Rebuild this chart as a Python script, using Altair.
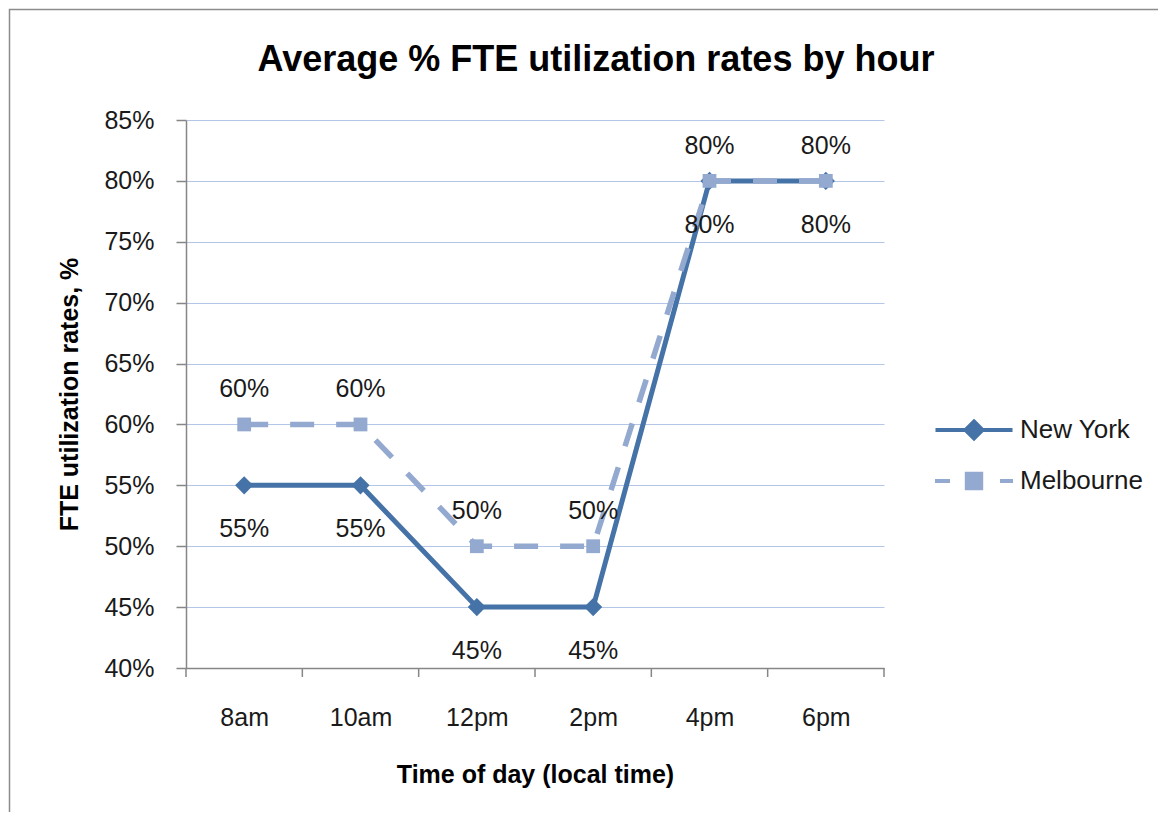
import json
import altair as alt
import pandas as pd

# ---- data ----
hours = ["8am", "10am", "12pm", "2pm", "4pm", "6pm"]
new_york = [55, 55, 45, 45, 80, 80]
melbourne = [60, 60, 50, 50, 80, 80]
cities = ["New York", "Melbourne"]
colors = ["#4572a7", "#93a9cf"]

FONT = "Liberation Sans"
TXT = 25

rows = []
for i, h in enumerate(hours):
    rows.append({"i": i, "hour": h, "city": "New York", "value": new_york[i]})
    rows.append({"i": i, "hour": h, "city": "Melbourne", "value": melbourne[i]})
df = pd.DataFrame(rows)
df["label"] = df["value"].astype(str) + "%"

bounds_df = pd.DataFrame({"b": [k - 0.5 for k in range(len(hours) + 1)]})

label_expr = json.dumps(hours) + "[datum.value]"
xscale = alt.Scale(domain=[-0.5, len(hours) - 0.5], nice=False, zero=False)
yscale = alt.Scale(domain=[40, 85], nice=False, zero=False)

x_enc = alt.X(
    "i:Q",
    scale=xscale,
    axis=alt.Axis(
        values=list(range(len(hours))),
        labelExpr=label_expr,
        ticks=False,
        grid=False,
        labelPadding=37,
        title="Time of day (local time)",
        titlePadding=32,
    ),
)
y_enc = alt.Y(
    "value:Q",
    scale=yscale,
    axis=alt.Axis(
        values=list(range(40, 86, 5)),
        labelExpr="datum.value + '%'",
        tickSize=10,
        labelPadding=22,
        title="FTE utilization  rates, %",
        titlePadding=21,
        grid=True,
    ),
)

base = alt.Chart(df)

border = alt.Chart(pd.DataFrame({"a": [0]})).mark_rect(
    fillOpacity=0, stroke="#8c8c8c", strokeWidth=1.5
).encode(
    x=alt.value(-176.5), x2=alt.value(1200), y=alt.value(-110.5), y2=alt.value(900)
)

xticks = alt.Chart(bounds_df).mark_rule(color="#868686", strokeWidth=1.5).encode(
    x=alt.X("b:Q", scale=xscale), y=alt.value(548), y2=alt.value(557)
)

ny = base.transform_filter(alt.datum.city == "New York")
mel = base.transform_filter(alt.datum.city == "Melbourne")

ny_line = ny.mark_line(color=colors[0], strokeWidth=5).encode(x=x_enc, y=y_enc)
ny_pts = ny.mark_point(shape="diamond", filled=True, size=330, color=colors[0], opacity=1).encode(
    x=x_enc, y=y_enc
)
mel_line = mel.mark_line(color=colors[1], strokeWidth=5.5, strokeDash=[24, 22], strokeCap="butt").encode(
    x=x_enc, y=y_enc
)
mel_pts = mel.mark_point(shape="square", filled=True, size=190, color=colors[1], opacity=1).encode(
    x=x_enc, y=y_enc
)

ny_txt = ny.mark_text(font=FONT, fontSize=TXT, color="#1a1a1a", dy=44, baseline="middle").encode(
    x=x_enc, y=y_enc, text="label:N"
)
mel_txt = mel.mark_text(font=FONT, fontSize=TXT, color="#1a1a1a", dy=-35, baseline="middle").encode(
    x=x_enc, y=y_enc, text="label:N"
)

ny_path = "M-1.925,0H1.925M0,-0.425L0.425,0L0,0.425L-0.425,0Z"
mel_path = "M-1.95,0H-1.2M1.3,0H1.95M-0.36,-0.36H0.36V0.36H-0.36Z"

legend_layer = (
    base.transform_filter("false")
    .mark_point(filled=True, size=1600, strokeWidth=4, opacity=1)
    .encode(
        x=x_enc,
        y=y_enc,
        fill=alt.Fill("city:N", scale=alt.Scale(domain=cities, range=colors), legend=None),
        stroke=alt.Stroke("city:N", scale=alt.Scale(domain=cities, range=colors), legend=None),
        shape=alt.Shape(
            "city:N",
            scale=alt.Scale(domain=cities, range=[ny_path, mel_path]),
            legend=alt.Legend(
                title=None,
                orient="none",
                legendX=766,
                legendY=288,
                symbolSize=1600,
                symbolStrokeWidth=4,
                labelOffset=24,
                rowPadding=12,
                padding=0,
                labelFont=FONT,
                labelFontSize=26,
                labelColor="#1a1a1a",
                labelBaseline="middle",
            ),
        ),
    )
)

chart = (
    alt.layer(border, xticks, ny_line, ny_pts, mel_line, mel_pts, ny_txt, mel_txt, legend_layer)
    .properties(
        width=698,
        height=548,
        padding={"left": 178, "top": 112, "right": 274, "bottom": 144},
        autosize=alt.AutoSizeParams(type="none"),
        title=alt.TitleParams(
            "Average % FTE utilization rates by hour",
            font=FONT,
            fontSize=36,
            fontWeight="bold",
            color="#000000",
            anchor="middle",
            frame="group",
            dx=61,
            baseline="alphabetic",
            offset=-98,
        ),
    )
    .configure(font=FONT)
    .configure_view(stroke=None)
    .configure_axis(
        labelFont=FONT,
        labelFontSize=TXT,
        labelColor="#1a1a1a",
        titleFont=FONT,
        titleFontSize=25,
        titleFontWeight="bold",
        titleColor="#000000",
        domainColor="#868686",
        domainWidth=1.5,
        tickColor="#868686",
        tickWidth=1.5,
        gridColor="#b4c6e7",
        gridWidth=1,
    )
)

chart.save("out.html", embed_options={"renderer": "svg", "actions": False})
